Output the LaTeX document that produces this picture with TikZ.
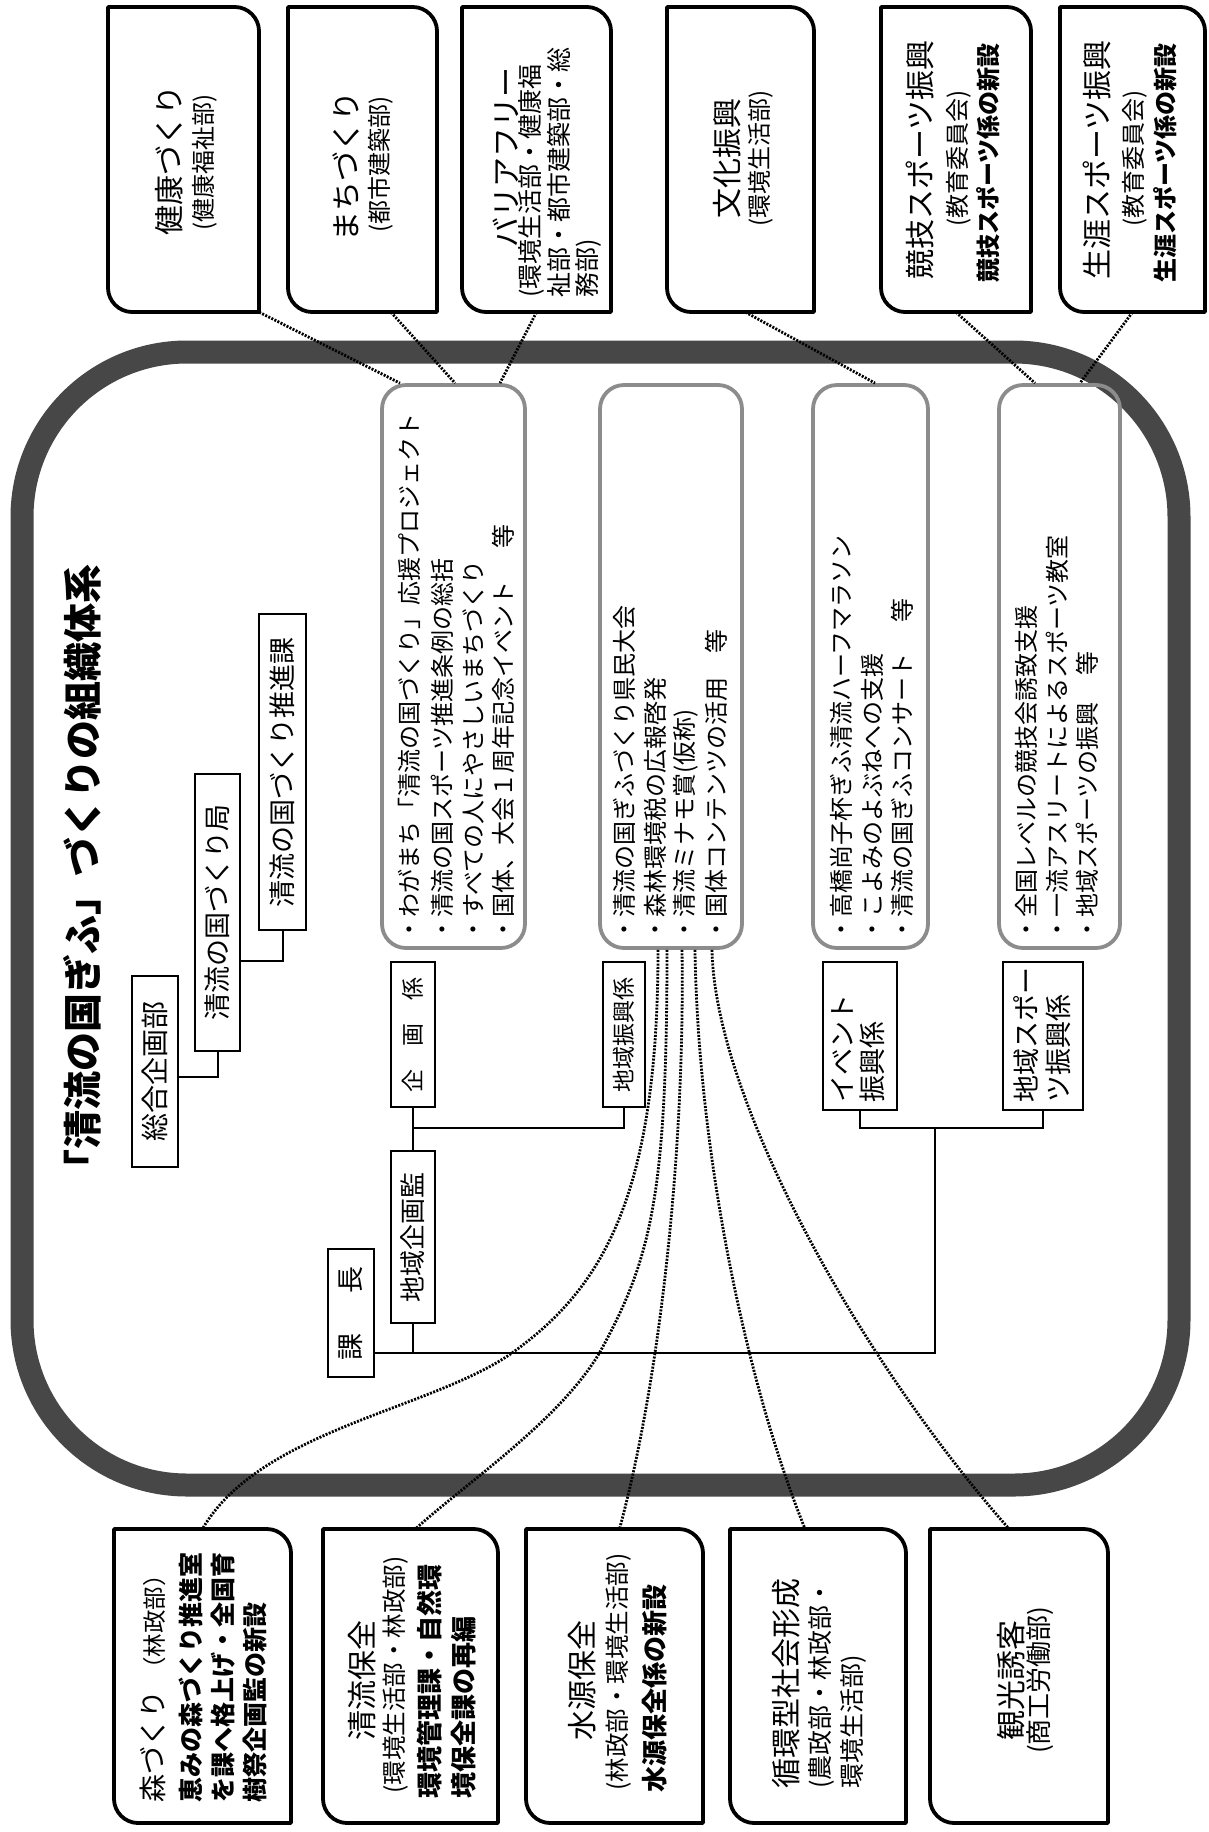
\documentclass[tikz,border=0pt]{standalone}
\usepackage{fontspec}
\usepackage{graphicx}
\setmainfont{Noto Sans CJK JP}
\newcommand{\jfs}[1]{\fontsize{#1pt}{#1pt}\selectfont}
\tikzset{
 band/.style={draw=black!72, line width=23pt, rounded corners=165pt},
 outbox/.style={draw=black, line width=3.8pt, line join=round},
 inbox/.style={draw=black!45, line width=3.8pt, rounded corners=24pt},
 orgbox/.style={draw=black, line width=2.8pt, inner sep=0pt, fill=white},
 conn/.style={draw=black, line width=2pt},
 dotconn/.style={draw=black, line width=2.8pt, dash pattern=on 2pt off 1.4pt},
 txt/.style={rotate=90, inner sep=0pt, text=black},
 boxarea/.style={inner sep=0pt, draw=none},
}
\newcommand{\obox}[5]{%
 \node[boxarea, minimum width={(#4-#2)*1pt}, minimum height={(#5-#3)*1pt}] (#1) at ({(#2+#4)/2},{(#3+#5)/2}) {};
 \draw[outbox] (#2,#3) -- ({#4-24},#3) .. controls ({#4-11},#3) and (#4,{#3+11}) .. (#4,{#3+24}) -- (#4,#5) -- ({#2+24},#5) .. controls ({#2+11},#5) and (#2,{#5-11}) .. (#2,{#5-24}) -- cycle;
}
\begin{document}
\begin{tikzpicture}[x=1pt,y=-1pt]
\useasboundingbox (0,0) rectangle (1208,1832);
\fill[white] (0,0) rectangle (1208,1832);

% main frame
\draw[band] (22,352) rectangle (1179,1485);

% top boxes
\obox{t1}{108}{7}{259}{312}
\obox{t2}{288}{7}{437}{312}
\obox{t3}{462}{7}{611}{312}
\obox{t4}{667}{7}{814}{312}
\obox{t5}{881}{7}{1031}{312}
\obox{t6}{1060}{7}{1205}{312}

\node[txt, font=\jfs{30}] (t1a) at (169,160) {健康づくり};
\node[txt, font=\jfs{24}] (t1b) at (205,162) {(健康福祉部)};
\node[txt, font=\jfs{30}] (t2a) at (346,166) {まちづくり};
\node[txt, font=\jfs{24}] (t2b) at (381,164) {(都市建築部)};
\node[txt, font=\jfs{30}] (t3a) at (506,157) {バリアフリー};
\node[txt, font=\jfs{25}, anchor=west] (t3b) at (531,298) {(環境生活部・健康福};
\node[txt, font=\jfs{25}, anchor=west] (t3c) at (559,298) {祉部・都市建築部・総};
\node[txt, font=\jfs{25}, anchor=west] (t3d) at (588,298) {務部)};
\node[txt, font=\jfs{30}] (t4a) at (727,158) {文化振興};
\node[txt, font=\jfs{24}] (t4b) at (761,158) {(環境生活部)};
\node[txt, font=\jfs{30}] (t5a) at (920,160) {競技スポーツ振興};
\node[txt, font=\jfs{24}] (t5b) at (959,158) {(教育委員会)};
\node[txt, font=\jfs{24}\bfseries] (t5c) at (988,163) {競技スポーツ係の新設};
\node[txt, font=\jfs{30}] (t6a) at (1097,160) {生涯スポーツ振興};
\node[txt, font=\jfs{24}] (t6b) at (1135,158) {(教育委員会)};
\node[txt, font=\jfs{24}\bfseries] (t6c) at (1165,163) {生涯スポーツ係の新設};

% title
\node[txt, font=\jfs{39}\bfseries] (title) at (82,876) {「清流の国ぎふ」づくりの組織体系};

% org chart upper
\node[orgbox, minimum width=46pt, minimum height=191pt, font=\jfs{28}] (sogo) at (155,1071.5) {\rotatebox{90}{総合企画部}};
\node[orgbox, minimum width=45pt, minimum height=277pt, font=\jfs{27}] (kyoku) at (217.5,912.5) {\rotatebox{90}{清流の国づくり局}};
\node[orgbox, minimum width=47pt, minimum height=316pt, font=\jfs{27}] (suishin) at (282.5,772) {\rotatebox{90}{清流の国づくり推進課}};
\draw[conn] (sogo.east |- 0,1077) -| (kyoku.south);
\draw[conn] (kyoku.east |- 0,961) -| (suishin.south);

% inner boxes
\node[inbox, minimum width=143pt, minimum height=563pt] (ib1) at (453.5,666.5) {};
\node[inbox, minimum width=142pt, minimum height=563pt] (ib2) at (671,666.5) {};
\node[inbox, minimum width=115pt, minimum height=563pt] (ib3) at (870.5,666.5) {};
\node[inbox, minimum width=121pt, minimum height=563pt] (ib4) at (1059.5,666.5) {};

\node[txt, font=\jfs{24}, anchor=west] (i1a) at (409,942) {・わがまち「清流の国づくり」応援プロジェクト};
\node[txt, font=\jfs{24}, anchor=west] (i1b) at (442,942) {・清流の国スポーツ推進条例の総括};
\node[txt, font=\jfs{24}, anchor=west] (i1c) at (473,942) {・すべての人にやさしいまちづくり};
\node[txt, font=\jfs{24}, anchor=west] (i1d) at (503,942) {・国体、大会１周年記念イベント\hspace{1.4em}等};

\node[txt, font=\jfs{24}, anchor=west] (i2a) at (624,942) {・清流の国ぎふづくり県民大会};
\node[txt, font=\jfs{24}, anchor=west] (i2b) at (655,942) {・森林環境税の広報啓発};
\node[txt, font=\jfs{24}, anchor=west] (i2c) at (686,942) {・清流ミナモ賞(仮称)};
\node[txt, font=\jfs{24}, anchor=west] (i2d) at (716,942) {・国体コンテンツの活用\hspace{1em}等};

\node[txt, font=\jfs{24}, anchor=west] (i3a) at (841,942) {・高橋尚子杯ぎふ清流ハーフマラソン};
\node[txt, font=\jfs{24}, anchor=west] (i3b) at (872,942) {・こよみのよぶねへの支援};
\node[txt, font=\jfs{24}, anchor=west] (i3c) at (902,942) {・清流の国ぎふコンサート\hspace{1.3em}等};

\node[txt, font=\jfs{24}, anchor=west] (i4a) at (1026,942) {・全国レベルの競技会誘致支援};
\node[txt, font=\jfs{24}, anchor=west] (i4b) at (1057,942) {・一流アスリートによるスポーツ教室};
\node[txt, font=\jfs{24}, anchor=west] (i4c) at (1087,942) {・地域スポーツの振興\hspace{1.1em}等};

% org chart lower
\node[orgbox, minimum width=44pt, minimum height=145pt, font=\jfs{23}] (kikaku) at (413,1034.5) {\rotatebox{90}{企　画　係}};
\node[orgbox, minimum width=42pt, minimum height=145pt, font=\jfs{23}] (chiiki) at (624,1034.5) {\rotatebox{90}{地域振興係}};
\node[orgbox, minimum width=44pt, minimum height=172pt, font=\jfs{26}] (kanshi) at (413,1237) {\rotatebox{90}{地域企画監}};
\node[orgbox, minimum width=46pt, minimum height=128pt, font=\jfs{27}] (kacho) at (351,1313) {\rotatebox{90}{課\hspace{40pt}長}};
\node[orgbox, minimum width=74pt, minimum height=148pt] (event) at (860,1036) {};
\node[orgbox, minimum width=80pt, minimum height=148pt] (sports) at (1043,1036) {};
\node[txt, font=\jfs{27}, anchor=west] (ev1) at (842,1103) {イベント};
\node[txt, font=\jfs{27}, anchor=west] (ev2) at (872,1103) {振興係};
\node[txt, font=\jfs{27}, anchor=west] (sp1) at (1026,1103) {地域スポー};
\node[txt, font=\jfs{27}, anchor=west] (sp2) at (1058,1103) {ツ振興係};

\coordinate (j1) at (413,1128);
\coordinate (j2) at (413,1353);
\coordinate (j3) at (935,1353);
\coordinate (j4) at (935,1128);
\draw[conn] (kikaku.south) -- (kanshi.north);
\draw[conn] (j1) -| (chiiki.south);
\draw[conn] (kanshi.south) -- (j2);
\draw[conn] (kacho.east |- j2) -- (j3) -- (j4);
\draw[conn] (event.south) |- (j4) -| (sports.south);

% bottom boxes
\obox{b1}{114}{1529}{291}{1823}
\obox{b2}{323}{1529}{498}{1823}
\obox{b3}{526}{1529}{703}{1823}
\obox{b4}{730}{1529}{906}{1823}
\obox{b5}{930}{1529}{1108}{1823}

\node[txt, anchor=west] (b1a) at (153,1803) {{\jfs{28}森づくり}\hspace{10pt}{\jfs{23.5}（林政部）}};
\node[txt, font=\jfs{25}\bfseries, anchor=west] (b1b) at (191,1803) {恵みの森づくり推進室};
\node[txt, font=\jfs{25}\bfseries, anchor=west] (b1c) at (223,1803) {を課へ格上げ・全国育};
\node[txt, font=\jfs{25}\bfseries, anchor=west] (b1d) at (255,1803) {樹祭企画監の新設};

\node[txt, font=\jfs{30}] (b2a) at (362,1680) {清流保全};
\node[txt, font=\jfs{24.5}] (b2b) at (396,1675) {(環境生活部・林政部)};
\node[txt, font=\jfs{26}\bfseries, anchor=west] (b2c) at (430,1799) {環境管理課・自然環};
\node[txt, font=\jfs{26}\bfseries, anchor=west] (b2d) at (464,1799) {境保全課の再編};

\node[txt, font=\jfs{30}] (b3a) at (582,1680) {水源保全};
\node[txt, font=\jfs{24.5}] (b3b) at (619,1672) {(林政部・環境生活部)};
\node[txt, font=\jfs{26}\bfseries] (b3c) at (655,1688) {水源保全係の新設};

\node[txt, font=\jfs{30}, anchor=west] (b4a) at (786,1789) {循環型社会形成};
\node[txt, font=\jfs{25}, anchor=west] (b4b) at (821,1789) {(農政部・林政部・};
\node[txt, font=\jfs{25}, anchor=west] (b4c) at (853,1789) {環境生活部)};

\node[txt, font=\jfs{30}] (b5a) at (1011,1680) {観光誘客};
\node[txt, font=\jfs{26}] (b5b) at (1040,1680) {(商工労働部)};

% dotted connectors, top
\draw[dotconn] (t1.south east) -- ([xshift=-53.5pt]ib1.north);
\draw[dotconn] ([xshift=28.5pt]t2.south) -- ([xshift=1.5pt]ib1.north);
\draw[dotconn] (t3.south) -- ([xshift=46.5pt]ib1.north);
\draw[dotconn] ([xshift=5pt]t4.south) -- ([xshift=4.5pt]ib3.north);
\draw[dotconn] (t5.south) -- ([xshift=-24.5pt]ib4.north);
\draw[dotconn] (t6.south) -- ([xshift=20.5pt]ib4.north);

% dotted connectors, bottom
\draw[dotconn] ([xshift=-13pt]ib2.south) .. controls (658,1200) and (600,1290) .. (512,1353) .. controls (430,1410) and (260,1430) .. (b1.north);
\draw[dotconn] ([xshift=-4pt]ib2.south) .. controls (667,1200) and (650,1260) .. (600,1352) .. controls (560,1420) and (470,1480) .. ([xshift=5pt]b2.north);
\draw[dotconn] ([xshift=11pt]ib2.south) .. controls (685,1150) and (660,1380) .. ([xshift=5pt]b3.north);
\draw[dotconn] ([xshift=24pt]ib2.south) .. controls (698,1150) and (745,1380) .. ([xshift=-13pt]b4.north);
\draw[dotconn] ([xshift=41pt]ib2.south) .. controls (715,1100) and (860,1360) .. ([xshift=-10pt]b5.north);
\end{tikzpicture}
\end{document}
